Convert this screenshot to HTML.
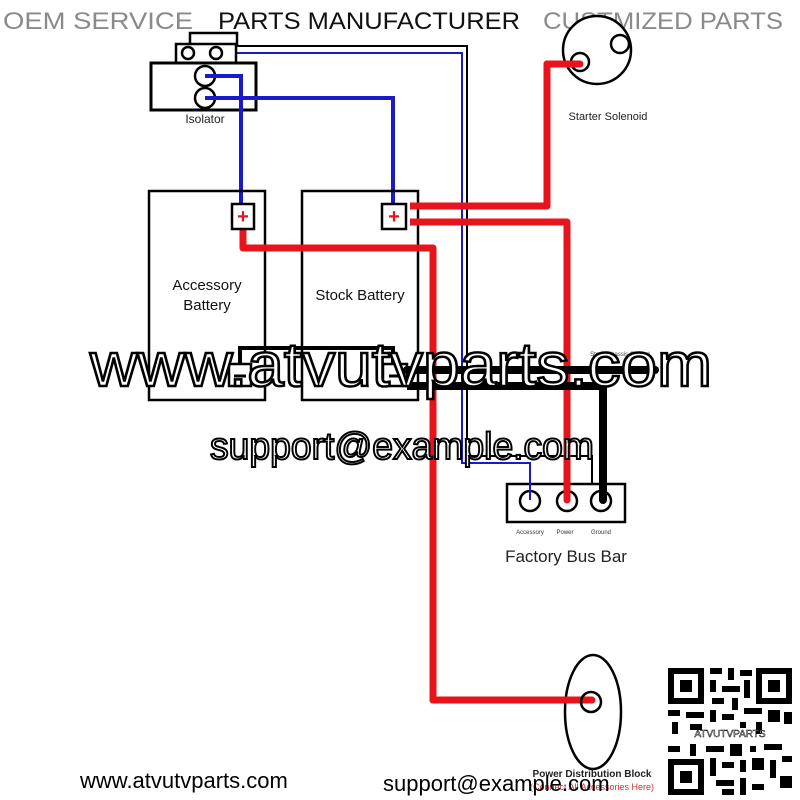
<!DOCTYPE html>
<html><head><meta charset="utf-8"><style>
html,body{margin:0;padding:0;background:#fff}
svg{display:block}
text{font-family:"Liberation Sans",sans-serif}
</style></head><body>
<svg width="800" height="800" viewBox="0 0 800 800" xmlns="http://www.w3.org/2000/svg">
<rect width="800" height="800" fill="#fff"/>
<!-- header -->
<text x="3" y="29" font-size="24" fill="#8a8a8a" textLength="190" lengthAdjust="spacingAndGlyphs">OEM SERVICE</text>
<text x="218" y="29" font-size="24" fill="#111" textLength="302" lengthAdjust="spacingAndGlyphs">PARTS MANUFACTURER</text>
<text x="543" y="29" font-size="24" fill="#8a8a8a" textLength="240" lengthAdjust="spacingAndGlyphs">CUSTMIZED PARTS</text>

<!-- thin wires -->
<polyline points="237,46 467,46 467,456 592,456 592,498" fill="none" stroke="#000" stroke-width="2"/>
<polyline points="216,53 462,53 462,463 530,463 530,498" fill="none" stroke="#1a1acc" stroke-width="2"/>

<!-- isolator -->
<rect x="190" y="33" width="47" height="12" fill="#fff" stroke="#000" stroke-width="2.5"/>
<rect x="176" y="44" width="60" height="19" fill="#fff" stroke="#000" stroke-width="2.5"/>
<circle cx="188" cy="53" r="6" fill="#fff" stroke="#000" stroke-width="2.5"/>
<circle cx="216" cy="53" r="6" fill="#fff" stroke="#000" stroke-width="2.5"/>
<rect x="151" y="63" width="105" height="47" fill="#fff" stroke="#000" stroke-width="3"/>
<circle cx="205" cy="76" r="10" fill="#fff" stroke="#000" stroke-width="2.5"/>
<circle cx="205" cy="98" r="10" fill="#fff" stroke="#000" stroke-width="2.5"/>
<text x="205" y="123" font-size="12" text-anchor="middle" fill="#222">Isolator</text>
<polyline points="205,76 241,76 241,207" fill="none" stroke="#1a1acc" stroke-width="4"/>
<polyline points="205,98 393,98 393,207" fill="none" stroke="#1a1acc" stroke-width="4"/>

<!-- batteries -->
<rect x="149" y="191" width="116" height="209" fill="none" stroke="#000" stroke-width="2.5"/>
<rect x="302" y="191" width="116" height="209" fill="none" stroke="#000" stroke-width="2.5"/>
<text x="207" y="290" font-size="15" text-anchor="middle" fill="#111">Accessory</text>
<text x="207" y="310" font-size="15" text-anchor="middle" fill="#111">Battery</text>
<text x="360" y="300" font-size="15" text-anchor="middle" fill="#111">Stock Battery</text>

<!-- red wires -->
<polyline points="410,206 547,206 547,64 580,64" fill="none" stroke="#e8141c" stroke-width="7" stroke-linejoin="round"/>
<polyline points="410,222 567,222 567,500" fill="none" stroke="#e8141c" stroke-width="7" stroke-linejoin="round"/>
<polyline points="243,228 243,248 433,248 433,700 592,700" fill="none" stroke="#e8141c" stroke-width="7" stroke-linejoin="round"/>

<rect x="232" y="204" width="22" height="25" fill="#fff" stroke="#000" stroke-width="2.5"/>
<text x="243" y="223" font-size="20" text-anchor="middle" fill="#e8141c" font-weight="bold">+</text>
<rect x="382" y="204" width="24" height="25" fill="#fff" stroke="#000" stroke-width="2.5"/>
<text x="394" y="223" font-size="20" text-anchor="middle" fill="#e8141c" font-weight="bold">+</text>

<!-- negative terminals -->
<polyline points="240,365 240,348 393,348 393,365" fill="none" stroke="#000" stroke-width="4"/>
<rect x="229" y="364" width="22" height="22" fill="#fff" stroke="#000" stroke-width="2.5"/>
<rect x="383" y="364" width="24" height="22" fill="#fff" stroke="#000" stroke-width="2.5"/>
<line x1="234" y1="376" x2="246" y2="376" stroke="#000" stroke-width="3"/>
<line x1="389" y1="376" x2="401" y2="376" stroke="#000" stroke-width="3"/>
<line x1="407" y1="370" x2="655" y2="370" stroke="#000" stroke-width="8" stroke-linecap="round"/>
<polyline points="407,386 603,386 603,500" fill="none" stroke="#000" stroke-width="8" stroke-linejoin="round"/>
<text x="620" y="356" font-size="6" text-anchor="middle" fill="#444">Stock Chassis Ground</text>

<!-- solenoid -->
<circle cx="597" cy="50" r="34" fill="#fff" stroke="#000" stroke-width="2.5"/>
<circle cx="580" cy="62" r="9" fill="#fff" stroke="#000" stroke-width="2.5"/>
<circle cx="620" cy="44" r="9" fill="#fff" stroke="#000" stroke-width="2.5"/>
<line x1="547" y1="64" x2="580" y2="64" stroke="#e8141c" stroke-width="7" stroke-linecap="round"/>
<text x="608" y="120" font-size="11" text-anchor="middle" fill="#222">Starter Solenoid</text>

<!-- bus bar -->
<rect x="507" y="484" width="118" height="38" fill="#fff" stroke="#000" stroke-width="2.5"/>
<circle cx="530" cy="501" r="10" fill="#fff" stroke="#000" stroke-width="2.5"/>
<circle cx="567" cy="501" r="10" fill="#fff" stroke="#000" stroke-width="2.5"/>
<circle cx="601" cy="501" r="10" fill="#fff" stroke="#000" stroke-width="2.5"/>
<line x1="530" y1="463" x2="530" y2="500" stroke="#1a1acc" stroke-width="2"/>
<line x1="567" y1="480" x2="567" y2="500" stroke="#e8141c" stroke-width="7" stroke-linecap="round"/>
<line x1="603" y1="480" x2="603" y2="500" stroke="#000" stroke-width="8" stroke-linecap="round"/>
<text x="530" y="534" font-size="6" text-anchor="middle" fill="#333">Accessory</text>
<text x="565" y="534" font-size="6" text-anchor="middle" fill="#333">Power</text>
<text x="601" y="534" font-size="6" text-anchor="middle" fill="#333">Ground</text>
<text x="566" y="562" font-size="17" text-anchor="middle" fill="#222">Factory Bus Bar</text>

<!-- PDB -->
<ellipse cx="593" cy="712" rx="28" ry="57" fill="#fff" stroke="#000" stroke-width="2.5"/>
<line x1="433" y1="700" x2="592" y2="700" stroke="#e8141c" stroke-width="7" stroke-linecap="round"/>
<circle cx="591" cy="702" r="10" fill="none" stroke="#000" stroke-width="2.5"/>
<text x="592" y="777" font-size="10" text-anchor="middle" fill="#222" font-weight="bold">Power Distribution Block</text>
<text x="592" y="790" font-size="9" text-anchor="middle" fill="#d03030">(Connect All Accessories Here)</text>

<!-- watermarks -->
<text x="90" y="386" font-size="62" fill="#fff" stroke="#000" stroke-width="2.5" textLength="622" lengthAdjust="spacingAndGlyphs">www.atvutvparts.com</text>
<text x="210" y="459" font-size="38" fill="#fff" stroke="#000" stroke-width="2" textLength="384" lengthAdjust="spacingAndGlyphs">support@example.com</text>

<!-- bottom text -->
<text x="80" y="788" font-size="22" fill="#000">www.atvutvparts.com</text>
<text x="383" y="791" font-size="22" fill="#000">support@example.com</text>

<!-- QR -->
<g fill="#000">
<rect x="668" y="668" width="36" height="36"/><rect x="674" y="674" width="24" height="24" fill="#fff"/><rect x="680" y="680" width="12" height="12"/>
<rect x="756" y="668" width="36" height="36"/><rect x="762" y="674" width="24" height="24" fill="#fff"/><rect x="768" y="680" width="12" height="12"/>
<rect x="668" y="759" width="36" height="36"/><rect x="674" y="765" width="24" height="24" fill="#fff"/><rect x="680" y="771" width="12" height="12"/>
<rect x="710" y="668" width="12" height="6"/><rect x="728" y="668" width="6" height="12"/><rect x="740" y="670" width="12" height="6"/>
<rect x="710" y="680" width="6" height="12"/><rect x="722" y="686" width="18" height="6"/><rect x="744" y="680" width="6" height="18"/>
<rect x="712" y="698" width="12" height="6"/><rect x="732" y="698" width="6" height="12"/>
<rect x="668" y="710" width="12" height="6"/><rect x="686" y="712" width="18" height="6"/><rect x="710" y="710" width="6" height="12"/><rect x="722" y="714" width="12" height="6"/><rect x="744" y="708" width="18" height="6"/><rect x="768" y="710" width="12" height="12"/><rect x="784" y="712" width="8" height="12"/>
<rect x="672" y="722" width="6" height="12"/><rect x="690" y="724" width="12" height="6"/><rect x="740" y="722" width="6" height="6"/><rect x="756" y="722" width="6" height="12"/>
<rect x="668" y="746" width="12" height="6"/><rect x="690" y="744" width="6" height="12"/><rect x="706" y="746" width="18" height="6"/><rect x="730" y="744" width="12" height="12"/><rect x="750" y="746" width="6" height="6"/><rect x="764" y="744" width="18" height="6"/>
<rect x="710" y="758" width="6" height="18"/><rect x="722" y="762" width="12" height="6"/><rect x="740" y="760" width="6" height="12"/><rect x="752" y="758" width="12" height="12"/><rect x="770" y="760" width="6" height="18"/><rect x="782" y="756" width="10" height="6"/>
<rect x="716" y="780" width="18" height="6"/><rect x="740" y="778" width="6" height="17"/><rect x="752" y="784" width="12" height="6"/><rect x="780" y="776" width="12" height="12"/><rect x="722" y="789" width="12" height="6"/>
</g>
<text x="730" y="737" font-size="10" text-anchor="middle" fill="#fff" stroke="#000" stroke-width="0.5" font-family="Liberation Serif">ATVUTVPARTS</text>
</svg>
</body></html>
